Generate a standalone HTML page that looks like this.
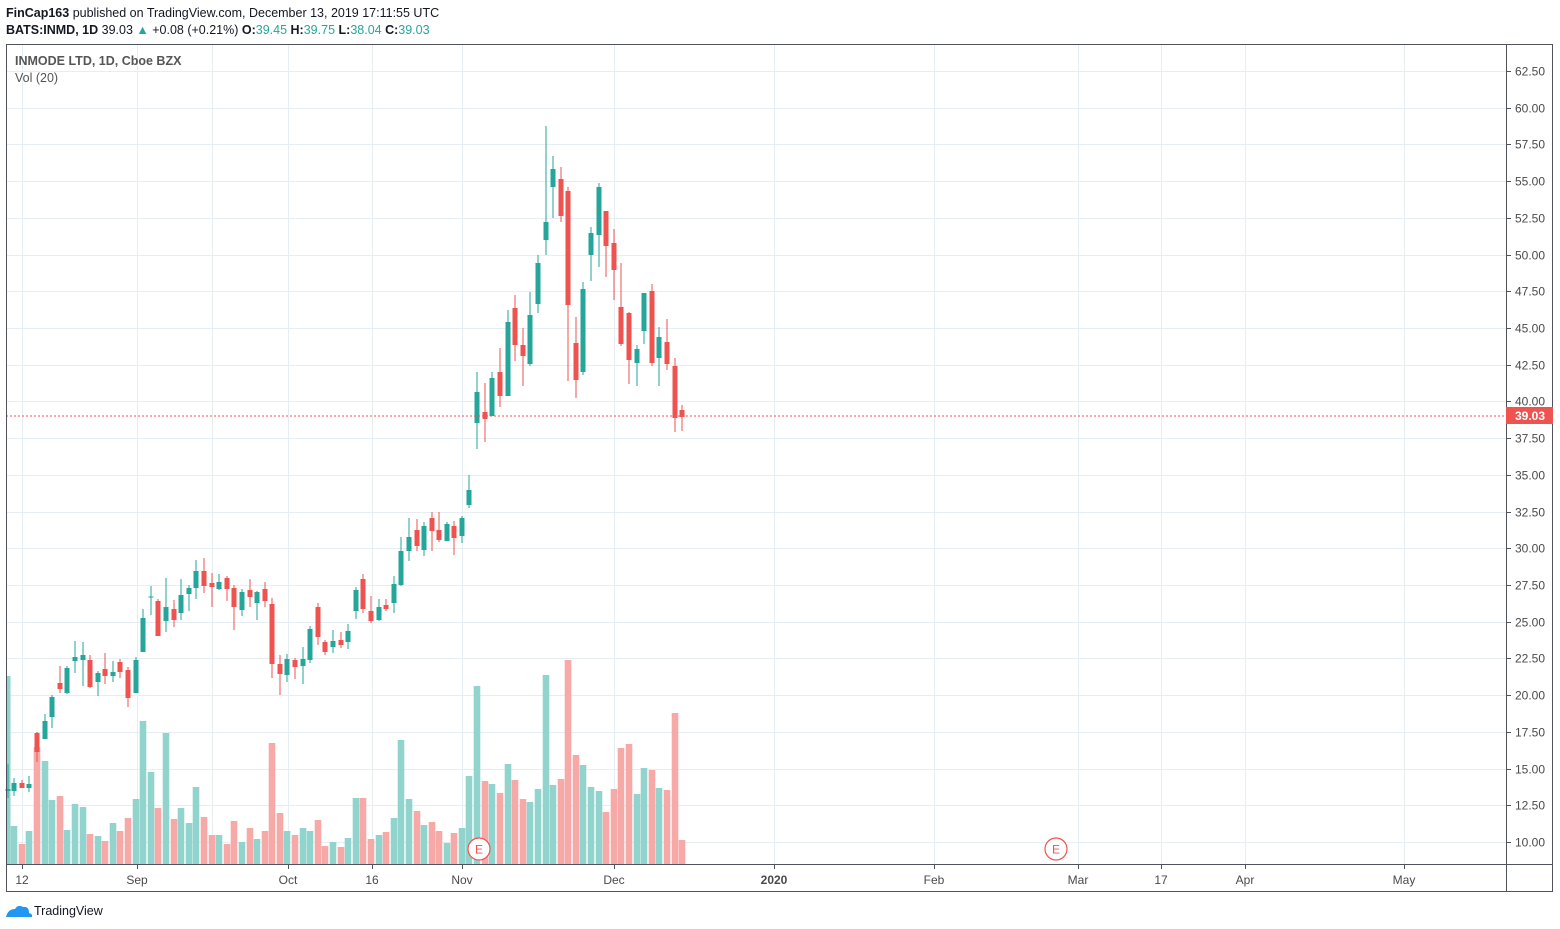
<!DOCTYPE html>
<html><head><meta charset="utf-8"><style>
html,body{margin:0;padding:0;background:#fff;width:1560px;height:929px;overflow:hidden;font-family:"Liberation Sans",sans-serif;}
</style></head><body>
<svg id="s" width="1560" height="929" xmlns="http://www.w3.org/2000/svg" style="position:absolute;left:0;top:0">
<text x="6" y="17" font-size="12.5" fill="#131722"><tspan font-weight="bold">FinCap163</tspan> published on TradingView.com, December 13, 2019 17:11:55 UTC</text>
<text x="6" y="34" font-size="12.5" fill="#131722"><tspan font-weight="bold">BATS:INMD, 1D</tspan> 39.03 <tspan fill="#26a69a">▲</tspan> +0.08 (+0.21%) <tspan font-weight="bold">O:</tspan><tspan fill="#26a69a">39.45</tspan> <tspan font-weight="bold">H:</tspan><tspan fill="#26a69a">39.75</tspan> <tspan font-weight="bold">L:</tspan><tspan fill="#26a69a">38.04</tspan> <tspan font-weight="bold">C:</tspan><tspan fill="#26a69a">39.03</tspan></text>
<g id="grid"></g>
<g id="vol"></g>
<g id="cdl"></g>
<line x1="6" y1="416" x2="1506" y2="416" stroke="#ef5350" stroke-width="1" stroke-dasharray="2,2"/>
<rect x="6.5" y="44.5" width="1546" height="847" fill="none" stroke="#50535e" stroke-width="1"/>
<line x1="1506.5" y1="44" x2="1506.5" y2="892" stroke="#50535e"/>
<line x1="6" y1="864.5" x2="1553" y2="864.5" stroke="#50535e"/>
<g id="ax"></g>
<rect x="1506" y="407" width="47" height="17" fill="#ef5350"/>
<text x="1515" y="420" font-size="12" font-weight="bold" fill="#fff">39.03</text>
<text x="15" y="65" font-size="12.5" font-weight="bold" fill="#555">INMODE LTD, 1D, Cboe BZX</text>
<text x="15" y="82" font-size="12.5" fill="#555">Vol (20)</text>
<circle cx="479" cy="849" r="11" fill="#fff" stroke="#ef5350" stroke-width="1.2"/>
<text x="479" y="853.5" font-size="12" fill="#ef5350" text-anchor="middle">E</text>
<circle cx="1056" cy="849" r="11" fill="#fff" stroke="#ef5350" stroke-width="1.2"/>
<text x="1056" y="853.5" font-size="12" fill="#ef5350" text-anchor="middle">E</text>
<path d="M6 917 q2-8 9-8 q3-5 8-2 q6-1 6 6 q4 1 3 4 z" fill="#2196f3"/>
<text x="34" y="915" font-size="12.5" fill="#131722">TradingView</text>
</svg>
<script>
var NS="http://www.w3.org/2000/svg";
function el(p,t,a){var e=document.createElementNS(NS,t);for(var k in a)e.setAttribute(k,a[k]);document.getElementById(p).appendChild(e);return e;}
// grid
var vx=[22,137,212,288,372,462,614,774,934,1078,1161,1245,1404];
vx.forEach(function(x){el("grid","line",{x1:x+.5,y1:44,x2:x+.5,y2:864,stroke:"#e6eef4"});});
for(var i=0;i<=21;i++){var p=10+i*2.5;var y=Math.round(842-(p-10)*14.686)+.5;
el("grid","line",{x1:6,y1:y,x2:1506,y2:y,stroke:"#e6eef4"});
el("ax","line",{x1:1506,y1:y,x2:1511,y2:y,stroke:"#50535e"});
var t=el("ax","text",{x:1515,y:y+4,"font-size":12,fill:"#4a4a4a"});t.textContent=p.toFixed(2);}
var tl=[[22,"12"],[137,"Sep"],[288,"Oct"],[372,"16"],[462,"Nov"],[614,"Dec"],[774,"2020",1],[934,"Feb"],[1078,"Mar"],[1161,"17"],[1245,"Apr"],[1404,"May"]];
tl.forEach(function(a){el("ax","line",{x1:a[0]+.5,y1:864,x2:a[0]+.5,y2:869,stroke:"#50535e"});
var t=el("ax","text",{x:a[0],y:884,"font-size":12,fill:"#4a4a4a","text-anchor":"middle","font-weight":a[2]?"bold":"normal"});t.textContent=a[1];});
// candles: x, open, close, high, low (pixel y), color g/r, volume top
var C=[
[8,791,789,764,798,'g',676],[14,791,783,778,796,'g',826],[22,783,788,780,788,'r',844],[29,788,784,776,792,'g',831],
[37,733,752,732,762,'r',747],[45,739,721,714,739,'g',761],[52,717,697,695,728,'g',800],[60,683,689,666,693,'r',796],
[67,693,668,666,694,'g',830],[75,661,657,641,673,'g',804],[83,660,655,642,686,'g',807],[90,660,687,655,688,'r',834],
[98,682,673,671,696,'g',836],[105,669,676,653,684,'r',841],[113,676,672,661,682,'g',823],[120,662,672,659,678,'r',831],
[128,670,698,667,707,'r',818],[136,693,660,657,693,'g',799],[143,652,618,609,652,'g',721],[151,597.5,596.5,586,615,'g',772],
[158,601,636,599,636,'r',808],[166,621,607,578,632,'g',733],[174,609,620,600,627,'r',819],[181,613,595,579,620,'g',808],
[189,594,588,585,611,'g',823],[196,588,571,560,599,'g',787],[204,571,586,558,593,'r',817],[212,583,587,573,607,'r',835],
[219,589,582,574,590,'g',835],[227,578,589,576,601,'r',844],[234,588,607,585,630,'r',821],[242,610,592,589,616,'g',842],
[250,590,597,579,607,'r',828],[257,603,592,591,620,'g',839],[265,589,601,582,607,'r',831],[272,604,664,598,678,'r',743],
[280,664,674,655,695,'r',813],[287,675,659,654,682,'g',831],[295,660,667,658,679,'r',835],[303,666,659,647,684,'g',828],
[310,660,629,626,663,'g',831],[318,607,637,603,645,'r',820],[325,642,652,640,655,'r',846],[333,647,641,630,653,'g',842],
[341,640,645,632,648,'r',847],[348,642,631,624,649,'g',838],[356,611,590,587,619,'g',798],[363,579,609,574,613,'r',798],
[371,611,621,596,623,'r',839],[379,620,607,599,621,'g',835],[386,605,609,599,611,'r',832],[394,603,584,576,613,'g',818],
[401,585,551,537,586,'g',740],[409,551,537,518,561,'g',799],[417,530,546,519,551,'r',811],[424,550,526,522,556,'g',825],
[432,518,531,512,551,'r',822],[439,530,540,512,542,'r',831],[447,541,524,522,541,'g',843],[454,526,538,521,555,'r',833],
[462,536,518,516,543,'g',828],[469,505,490,475,508,'g',776],[477,423,392,372,449,'g',686],[485,412,419,383,442,'r',781],
[492,416,378,372,416,'g',784],[500,372,396,348,407,'r',793],[508,396,322,310,396,'g',764],[515,308,345,295,361,'r',780],
[523,345,356,328,386,'r',799],[530,364,315,292,366,'g',802],[538,304,263,255,313,'g',789],[546,240,222,126,255,'g',675],
[553,187,169,156,218,'g',785],[561,179,216,167,222,'r',779],[568,191,305,187,381,'r',660],[576,343,380,317,398,'r',755],
[583,372,289,282,375,'g',765],[591,255,233,227,281,'g',787],[599,235,187,183,267,'g',791],[606,211,246,211,277,'r',812],
[614,243,270,229,300,'r',789],[621,307,344,263,346,'r',748],[629,313,360,312,384,'r',744],[637,363,349,345,386,'g',794],
[644,331,293,293,344,'g',768],[652,291,363,284,366,'r',770],[659,358,337,327,386,'g',788],[667,342,364,319,370,'r',790],
[675,366,418,358,432,'r',713],[682,410,417,405,431,'r',840]];
C.forEach(function(c){
var x=c[0],g=c[5]=='g',col=g?"#26a69a":"#ef5350",vc=g?"#91d4cd":"#f7a9a7";
var vx0=x-3.3,vw=6.6;if(x<10){vx0=6;vw=4.5;}
el("vol","rect",{x:vx0,y:c[6],width:vw,height:864-c[6],fill:vc});
el("cdl","line",{x1:x,y1:c[3],x2:x,y2:c[4],stroke:col,"stroke-width":1});
var t=Math.min(c[1],c[2]),h=Math.max(1,Math.abs(c[1]-c[2]));
el("cdl","rect",{x:x-2.5,y:t,width:5,height:h,fill:col});
});
</script>
</body></html>
